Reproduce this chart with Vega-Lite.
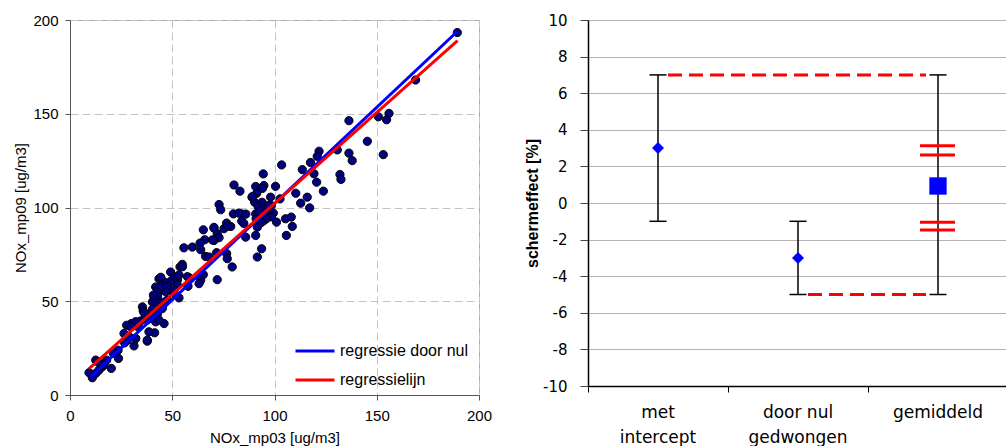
{
  "$schema": "https://vega.github.io/schema/vega-lite/v6.json",
  "padding": {"left": 12, "top": 12, "right": 0, "bottom": 0},
  "spacing": 31,
  "config": {"font": "Liberation Sans", "view": {"stroke": null}},
  "datasets": {
    "scatter": [
      {"nox_mp03": 189.4, "nox_mp09": 193.3}, {"nox_mp03": 169, "nox_mp09": 168}, {"nox_mp03": 136.4, "nox_mp09": 146.3},
      {"nox_mp03": 150.8, "nox_mp09": 148.4}, {"nox_mp03": 154.8, "nox_mp09": 146.8}, {"nox_mp03": 156, "nox_mp09": 150.2},
      {"nox_mp03": 145.4, "nox_mp09": 135.3}, {"nox_mp03": 153.2, "nox_mp09": 128.2}, {"nox_mp03": 130.7, "nox_mp09": 130.7},
      {"nox_mp03": 136.4, "nox_mp09": 129}, {"nox_mp03": 138, "nox_mp09": 125}, {"nox_mp03": 132, "nox_mp09": 117.6},
      {"nox_mp03": 132.5, "nox_mp09": 115}, {"nox_mp03": 121.8, "nox_mp09": 130}, {"nox_mp03": 120.9, "nox_mp09": 127.3},
      {"nox_mp03": 117.6, "nox_mp09": 124}, {"nox_mp03": 113.6, "nox_mp09": 120.2}, {"nox_mp03": 119.3, "nox_mp09": 118},
      {"nox_mp03": 120.6, "nox_mp09": 113.5}, {"nox_mp03": 123.9, "nox_mp09": 108.7}, {"nox_mp03": 103.5, "nox_mp09": 122.7},
      {"nox_mp03": 110.4, "nox_mp09": 107.6}, {"nox_mp03": 116, "nox_mp09": 105.5}, {"nox_mp03": 112.8, "nox_mp09": 102.3},
      {"nox_mp03": 117.2, "nox_mp09": 99.8}, {"nox_mp03": 102.7, "nox_mp09": 104.6}, {"nox_mp03": 100.5, "nox_mp09": 111.3},
      {"nox_mp03": 105.4, "nox_mp09": 94}, {"nox_mp03": 108.2, "nox_mp09": 94.9}, {"nox_mp03": 108.7, "nox_mp09": 89.9},
      {"nox_mp03": 105.8, "nox_mp09": 85.1}, {"nox_mp03": 101, "nox_mp09": 92.2}, {"nox_mp03": 98.1, "nox_mp09": 105.5},
      {"nox_mp03": 98.4, "nox_mp09": 101}, {"nox_mp03": 99.4, "nox_mp09": 97}, {"nox_mp03": 94.5, "nox_mp09": 117.9},
      {"nox_mp03": 94.8, "nox_mp09": 111.7}, {"nox_mp03": 90.8, "nox_mp09": 111.2}, {"nox_mp03": 89, "nox_mp09": 105.5},
      {"nox_mp03": 90.3, "nox_mp09": 102.8}, {"nox_mp03": 93.9, "nox_mp09": 102.8}, {"nox_mp03": 93.2, "nox_mp09": 98.4},
      {"nox_mp03": 90.8, "nox_mp09": 96.6}, {"nox_mp03": 94.8, "nox_mp09": 93}, {"nox_mp03": 91.6, "nox_mp09": 89.5},
      {"nox_mp03": 90.8, "nox_mp09": 85.1}, {"nox_mp03": 93.7, "nox_mp09": 78}, {"nox_mp03": 91.6, "nox_mp09": 73.6},
      {"nox_mp03": 85.9, "nox_mp09": 84.2}, {"nox_mp03": 80.2, "nox_mp09": 112}, {"nox_mp03": 83.1, "nox_mp09": 108.7},
      {"nox_mp03": 79.9, "nox_mp09": 96.6}, {"nox_mp03": 83.8, "nox_mp09": 96.6}, {"nox_mp03": 84, "nox_mp09": 92.7},
      {"nox_mp03": 78.6, "nox_mp09": 89.9}, {"nox_mp03": 76.6, "nox_mp09": 91.7}, {"nox_mp03": 75.3, "nox_mp09": 88.7},
      {"nox_mp03": 76.6, "nox_mp09": 75.4}, {"nox_mp03": 76.9, "nox_mp09": 72.7}, {"nox_mp03": 79.3, "nox_mp09": 68.3},
      {"nox_mp03": 72.9, "nox_mp09": 101.6}, {"nox_mp03": 73.7, "nox_mp09": 98.8}, {"nox_mp03": 70.4, "nox_mp09": 89},
      {"nox_mp03": 72, "nox_mp09": 86}, {"nox_mp03": 72.9, "nox_mp09": 83.9}, {"nox_mp03": 70.4, "nox_mp09": 82.4},
      {"nox_mp03": 65.2, "nox_mp09": 88.1}, {"nox_mp03": 65.9, "nox_mp09": 82.8}, {"nox_mp03": 63.6, "nox_mp09": 81},
      {"nox_mp03": 63.9, "nox_mp09": 77.5}, {"nox_mp03": 66.3, "nox_mp09": 73.9}, {"nox_mp03": 68, "nox_mp09": 73.6},
      {"nox_mp03": 72, "nox_mp09": 61.5}, {"nox_mp03": 65.2, "nox_mp09": 64.2}, {"nox_mp03": 63.9, "nox_mp09": 61.2},
      {"nox_mp03": 63.1, "nox_mp09": 59.4}, {"nox_mp03": 59.8, "nox_mp09": 78.9}, {"nox_mp03": 55.7, "nox_mp09": 78.5},
      {"nox_mp03": 54.9, "nox_mp09": 69.7}, {"nox_mp03": 53.8, "nox_mp09": 68.3}, {"nox_mp03": 49.2, "nox_mp09": 65.6},
      {"nox_mp03": 53.3, "nox_mp09": 51.8}, {"nox_mp03": 58.2, "nox_mp09": 62.6}, {"nox_mp03": 57.7, "nox_mp09": 58},
      {"nox_mp03": 52.5, "nox_mp09": 61.2}, {"nox_mp03": 50.9, "nox_mp09": 62.9}, {"nox_mp03": 49.2, "nox_mp09": 60.6},
      {"nox_mp03": 46, "nox_mp09": 60.3}, {"nox_mp03": 43.5, "nox_mp09": 62}, {"nox_mp03": 41.9, "nox_mp09": 57.6},
      {"nox_mp03": 43.5, "nox_mp09": 55}, {"nox_mp03": 46, "nox_mp09": 55.9}, {"nox_mp03": 47.6, "nox_mp09": 57.6},
      {"nox_mp03": 41.1, "nox_mp09": 51.8}, {"nox_mp03": 42.8, "nox_mp09": 52.7}, {"nox_mp03": 40.3, "nox_mp09": 49.6},
      {"nox_mp03": 45.1, "nox_mp09": 46.1}, {"nox_mp03": 42.8, "nox_mp09": 43.4}, {"nox_mp03": 41.9, "nox_mp09": 39},
      {"nox_mp03": 46, "nox_mp09": 38.1}, {"nox_mp03": 41.4, "nox_mp09": 33.2}, {"nox_mp03": 38.6, "nox_mp09": 33.7},
      {"nox_mp03": 37.8, "nox_mp09": 28.7}, {"nox_mp03": 35.4, "nox_mp09": 47}, {"nox_mp03": 35.8, "nox_mp09": 44.9},
      {"nox_mp03": 34.6, "nox_mp09": 39.5}, {"nox_mp03": 33.3, "nox_mp09": 36.3}, {"nox_mp03": 31.3, "nox_mp09": 26.2},
      {"nox_mp03": 32.1, "nox_mp09": 30.1}, {"nox_mp03": 30, "nox_mp09": 38.1}, {"nox_mp03": 27.7, "nox_mp09": 37.2},
      {"nox_mp03": 26.4, "nox_mp09": 32.8}, {"nox_mp03": 26.7, "nox_mp09": 27.8}, {"nox_mp03": 23.5, "nox_mp09": 23.9},
      {"nox_mp03": 21.2, "nox_mp09": 22.2}, {"nox_mp03": 23.7, "nox_mp09": 19.5}, {"nox_mp03": 20.2, "nox_mp09": 14.2},
      {"nox_mp03": 17.9, "nox_mp09": 18.6}, {"nox_mp03": 15, "nox_mp09": 16.5}, {"nox_mp03": 12.6, "nox_mp09": 18.6},
      {"nox_mp03": 14.2, "nox_mp09": 13.3}, {"nox_mp03": 9.3, "nox_mp09": 11.9}, {"nox_mp03": 10.9, "nox_mp09": 9.2},
      {"nox_mp03": 12.6, "nox_mp09": 11.5}, {"nox_mp03": 15.8, "nox_mp09": 15.1}, {"nox_mp03": 28, "nox_mp09": 29.3},
      {"nox_mp03": 39.4, "nox_mp09": 42.6}, {"nox_mp03": 37, "nox_mp09": 41.7}, {"nox_mp03": 47.6, "nox_mp09": 50.7},
      {"nox_mp03": 50.5, "nox_mp09": 54.3}, {"nox_mp03": 44.3, "nox_mp09": 49.6}, {"nox_mp03": 91.3, "nox_mp09": 107.6},
      {"nox_mp03": 94.1, "nox_mp09": 110.2}, {"nox_mp03": 89.2, "nox_mp09": 105.8}, {"nox_mp03": 92, "nox_mp09": 100.5},
      {"nox_mp03": 95, "nox_mp09": 99}, {"nox_mp03": 96.5, "nox_mp09": 96.5}, {"nox_mp03": 98.5, "nox_mp09": 95},
      {"nox_mp03": 96, "nox_mp09": 94}, {"nox_mp03": 93.5, "nox_mp09": 92}, {"nox_mp03": 91, "nox_mp09": 94},
      {"nox_mp03": 92.5, "nox_mp09": 98}, {"nox_mp03": 97, "nox_mp09": 101}, {"nox_mp03": 82.5, "nox_mp09": 97},
      {"nox_mp03": 86, "nox_mp09": 96.5}, {"nox_mp03": 85, "nox_mp09": 91.5}, {"nox_mp03": 77, "nox_mp09": 90},
      {"nox_mp03": 70.4, "nox_mp09": 89.4}, {"nox_mp03": 69.6, "nox_mp09": 82.7}, {"nox_mp03": 71.7, "nox_mp09": 75.9},
      {"nox_mp03": 44.4, "nox_mp09": 62.8}, {"nox_mp03": 52.5, "nox_mp09": 62.2}, {"nox_mp03": 55, "nox_mp09": 68.4},
      {"nox_mp03": 43, "nox_mp09": 56.4}, {"nox_mp03": 44.7, "nox_mp09": 58.1}, {"nox_mp03": 47.6, "nox_mp09": 57.8},
      {"nox_mp03": 52.5, "nox_mp09": 58.7}, {"nox_mp03": 50.9, "nox_mp09": 56}, {"nox_mp03": 46.8, "nox_mp09": 55.1},
      {"nox_mp03": 40.8, "nox_mp09": 53.3}, {"nox_mp03": 43.5, "nox_mp09": 48.9}, {"nox_mp03": 45.2, "nox_mp09": 47.1},
      {"nox_mp03": 36.2, "nox_mp09": 43.9}, {"nox_mp03": 40.3, "nox_mp09": 45.7}, {"nox_mp03": 43.5, "nox_mp09": 40},
      {"nox_mp03": 37.8, "nox_mp09": 40}, {"nox_mp03": 32.1, "nox_mp09": 39.1}, {"nox_mp03": 29.7, "nox_mp09": 36.4},
      {"nox_mp03": 28.9, "nox_mp09": 31.1}, {"nox_mp03": 32.1, "nox_mp09": 30.2}, {"nox_mp03": 37.8, "nox_mp09": 29.3},
      {"nox_mp03": 16.6, "nox_mp09": 16}, {"nox_mp03": 13.4, "nox_mp09": 17.8}, {"nox_mp03": 57.4, "nox_mp09": 63.1},
      {"nox_mp03": 53.3, "nox_mp09": 64}
    ],
    "fits": [
      {"reeks": "regressie door nul", "x": 10, "y": 9.7},
      {"reeks": "regressie door nul", "x": 189.5, "y": 194},
      {"reeks": "regressielijn", "x": 9.3, "y": 14.1},
      {"reeks": "regressielijn", "x": 189.5, "y": 189}
    ],
    "effect": [
      {"methode": "met intercept", "waarde": 3, "laag": -1, "hoog": 7},
      {"methode": "door nul gedwongen", "waarde": -3, "laag": -5, "hoog": -1},
      {"methode": "gemiddeld", "waarde": 0.93, "laag": -5, "hoog": 7}
    ],
    "spreiding": [
      {"van": "met intercept", "tot": "gemiddeld", "waarde": 7},
      {"van": "door nul gedwongen", "tot": "gemiddeld", "waarde": -5}
    ],
    "grenzen": [
      {"methode": "gemiddeld", "waarde": 3.13},
      {"methode": "gemiddeld", "waarde": 2.62},
      {"methode": "gemiddeld", "waarde": -1.05},
      {"methode": "gemiddeld", "waarde": -1.48}
    ]
  },
  "hconcat": [
    {
      "width": 409,
      "height": 375,
      "view": {"stroke": "#a6a6a6", "strokeWidth": 1},
      "encoding": {
        "x": {"type": "quantitative", "scale": {"domain": [0, 200], "nice": false},
          "axis": {"values": [0, 50, 100, 150, 200], "grid": true, "gridDash": [8, 4], "gridColor": "#c4c4c4",
            "domainColor": "#555555", "tickColor": "#555555", "tickSize": 5, "labelFontSize": 15, "labelColor": "#000000",
            "labelPadding": 8, "labelFlush": false, "titleFontSize": 15, "titleFontWeight": "normal", "titleColor": "#000000",
            "titleY": 42, "titleBaseline": "middle"}},
        "y": {"type": "quantitative", "scale": {"domain": [0, 200], "nice": false},
          "axis": {"values": [0, 50, 100, 150, 200], "grid": true, "gridDash": [8, 4], "gridColor": "#c4c4c4",
            "domainColor": "#555555", "tickColor": "#555555", "tickSize": 5, "labelFontSize": 15, "labelColor": "#000000",
            "labelPadding": 7, "labelFlush": false, "titleFontSize": 15, "titleFontWeight": "normal", "titleColor": "#000000",
            "titleX": -50, "titleBaseline": "middle"}}
      },
      "layer": [
        {
          "data": {"name": "scatter"},
          "mark": {"type": "circle", "color": "#000080", "stroke": "#000000", "strokeWidth": 1, "size": 68, "opacity": 1},
          "encoding": {
            "x": {"field": "nox_mp03", "title": "NOx_mp03 [ug/m3]"},
            "y": {"field": "nox_mp09", "title": "NOx_mp09 [ug/m3]"}
          }
        },
        {
          "data": {"name": "fits"},
          "mark": {"type": "line", "strokeWidth": 3},
          "encoding": {
            "x": {"field": "x"},
            "y": {"field": "y"},
            "color": {"field": "reeks", "type": "nominal",
              "scale": {"domain": ["regressie door nul", "regressielijn"], "range": ["#0000ff", "#ff0000"]},
              "legend": {"orient": "none", "legendX": 224, "legendY": 310, "title": null, "symbolType": "stroke",
                "symbolSize": 1521, "symbolStrokeWidth": 3, "labelFontSize": 16, "labelColor": "#000000",
                "labelOffset": 4, "rowPadding": -14, "padding": 0}}
          }
        },
        {
          "mark": {"type": "text", "text": "y = 1.03x", "align": "left", "baseline": "middle", "fontSize": 16, "color": "#000000"},
          "encoding": {"x": {"datum": 107}, "y": {"datum": 175}}
        },
        {
          "mark": {"type": "text", "text": "y = 0.97x + 5.11", "align": "left", "baseline": "middle", "fontSize": 16, "color": "#000000"},
          "encoding": {"x": {"datum": 138.7}, "y": {"datum": 114}}
        }
      ]
    },
    {
      "width": 420,
      "height": 366,
      "encoding": {
        "x": {"field": "methode", "type": "nominal", "title": null,
          "scale": {"type": "band", "domain": ["met intercept", "door nul gedwongen", "gemiddeld"], "paddingInner": 0, "paddingOuter": 0},
          "axis": {"bandPosition": 0, "labelAngle": 0, "grid": false, "domainColor": "#000000", "domainWidth": 1.5,
            "tickColor": "#000000", "tickSize": 6, "labelFont": "DejaVu Sans", "labelFontSize": 17, "labelColor": "#000000",
            "labelPadding": 12, "labelLineHeight": 25, "labelBaseline": "top",
            "labelExpr": "datum.label == 'met intercept' ? ['met', 'intercept'] : datum.label == 'door nul gedwongen' ? ['door nul', 'gedwongen'] : datum.label"}},
        "y": {"type": "quantitative", "title": "schermeffect [%]", "scale": {"domain": [-10, 10], "nice": false},
          "axis": {"values": [-10, -8, -6, -4, -2, 0, 2, 4, 6, 8, 10], "grid": true, "gridColor": "#b4b4b4", "gridWidth": 1,
            "domainColor": "#000000", "domainWidth": 1.5, "tickColor": "#444444", "tickSize": 8, "labelFont": "DejaVu Sans",
            "labelFontSize": 15, "labelColor": "#000000", "labelPadding": 13, "labelExpr": "toString(datum.value)",
            "titleFontSize": 16, "titleFontWeight": "bold", "titleColor": "#000000", "titleX": -56, "titleBaseline": "middle"}}
      },
      "layer": [
        {
          "data": {"name": "effect"},
          "mark": {"type": "rule", "color": "#000000", "strokeWidth": 1.5},
          "encoding": {"y": {"field": "laag"}, "y2": {"field": "hoog"}}
        },
        {
          "data": {"name": "effect"},
          "mark": {"type": "tick", "color": "#000000", "size": 17, "thickness": 1.5, "opacity": 1},
          "encoding": {"y": {"field": "laag"}}
        },
        {
          "data": {"name": "effect"},
          "mark": {"type": "tick", "color": "#000000", "size": 17, "thickness": 1.5, "opacity": 1},
          "encoding": {"y": {"field": "hoog"}}
        },
        {
          "data": {"name": "spreiding"},
          "mark": {"type": "rule", "color": "#ff0000", "strokeWidth": 3, "strokeDash": [14, 7], "xOffset": 10, "x2Offset": -12},
          "encoding": {"x": {"field": "van"}, "x2": {"field": "tot"}, "y": {"field": "waarde"}}
        },
        {
          "data": {"name": "grenzen"},
          "mark": {"type": "rule", "color": "#ff0000", "strokeWidth": 3, "xOffset": -18, "x2Offset": 17},
          "encoding": {"x": {"field": "methode"}, "x2": {"field": "methode"}, "y": {"field": "waarde"}}
        },
        {
          "data": {"name": "effect"},
          "transform": [{"filter": "datum.methode != 'gemiddeld'"}],
          "mark": {"type": "point", "shape": "diamond", "filled": true, "color": "#0000ff", "size": 144, "opacity": 1},
          "encoding": {"y": {"field": "waarde"}}
        },
        {
          "data": {"name": "effect"},
          "transform": [{"filter": "datum.methode == 'gemiddeld'"}],
          "mark": {"type": "point", "shape": "square", "filled": true, "color": "#0000ff", "size": 300, "opacity": 1},
          "encoding": {"y": {"field": "waarde"}}
        }
      ]
    }
  ]
}
